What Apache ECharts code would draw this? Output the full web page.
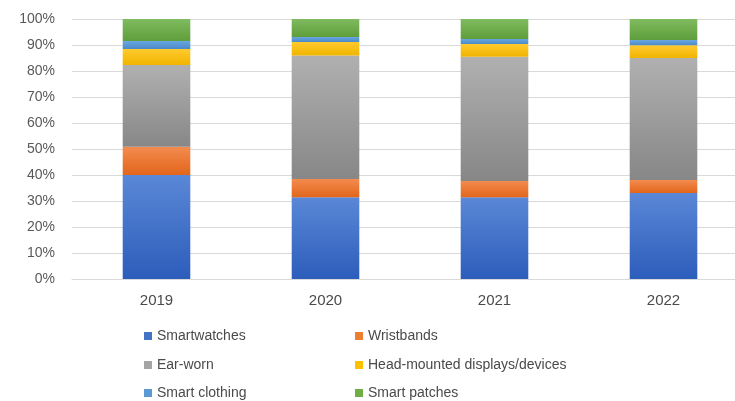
<!DOCTYPE html>
<html>
<head>
<meta charset="utf-8">
<script src="https://cdn.jsdelivr.net/npm/echarts@6/dist/echarts.min.js"></script>
<style>html,body{margin:0;padding:0;background:#fff;}#c{width:735px;height:401px;}</style>
</head>
<body>
<div id="c"></div>
<script>
var categories = ['2019', '2020', '2021', '2022'];
var smartwatches = [40.0, 31.4, 31.4, 33.1];
var wristbands = [10.9, 7.1, 6.3, 5.0];
var earWorn = [31.4, 47.5, 47.8, 46.9];
var headMounted = [6.2, 5.2, 4.9, 4.9];
var smartClothing = [3.0, 1.9, 1.9, 2.0];
var smartPatches = [8.5, 6.9, 7.7, 8.1];
var yTicks = [0, 10, 20, 30, 40, 50, 60, 70, 80, 90, 100];

var names = ['Smartwatches', 'Wristbands', 'Ear-worn', 'Head-mounted displays/devices', 'Smart clothing', 'Smart patches'];
var values = [smartwatches, wristbands, earWorn, headMounted, smartClothing, smartPatches];
var solid = ['#4472c4', '#ed7d31', '#a5a5a5', '#ffc000', '#5b9bd5', '#70ad47'];
var grads = [
  ['#5a87d6', '#2d5dbb'],
  ['#f38b4f', '#e2661b'],
  ['#b0b0b0', '#878787'],
  ['#ffca2e', '#f0b400'],
  ['#6aa7e0', '#4a8ac8'],
  ['#80bb60', '#5e9e3a']
];

var chart = echarts.init(document.getElementById('c'));
var series = names.map(function (n, i) {
  return {
    name: n,
    type: 'bar',
    stack: 'total',
    barWidth: '40%',
    data: values[i],
    itemStyle: {
      color: new echarts.graphic.LinearGradient(0, 0, 0, 1, [
        { offset: 0, color: grads[i][0] },
        { offset: 1, color: grads[i][1] }
      ])
    },
    emphasis: { disabled: true }
  };
});

var FONT = 'Liberation Sans, Arial, sans-serif';
var legendText = { fontFamily: FONT, fontSize: 14, color: '#4a4a4a' };
var legendLefts = [144, 355, 144, 355, 144, 355];
var legendTops = [329, 329, 358, 358, 386, 386];
var legends = names.map(function (n, i) {
  return {
    left: legendLefts[i],
    top: legendTops[i],
    padding: 0,
    itemWidth: 8,
    itemHeight: 8,
    itemGap: 4,
    icon: 'rect',
    selectedMode: false,
    textStyle: legendText,
    data: [{ name: n, itemStyle: { color: solid[i] } }]
  };
});

chart.setOption({
  animation: false,
  backgroundColor: '#fff',
  grid: { left: 72, top: 19, width: 676, height: 260, containLabel: false, outerBoundsMode: 'none' },
  legend: legends,
  xAxis: {
    type: 'category',
    data: categories,
    axisLine: { lineStyle: { color: '#d9d9d9', width: 1 } },
    axisTick: { show: false },
    axisLabel: { fontFamily: FONT, fontSize: 15, color: '#4a4a4a', margin: 14 }
  },
  yAxis: {
    type: 'value',
    min: yTicks[0],
    max: yTicks[yTicks.length - 1],
    interval: 10,
    axisLine: { show: false },
    axisTick: { show: false },
    splitLine: { lineStyle: { color: '#d9d9d9', width: 1 } },
    axisLabel: { fontFamily: FONT, fontSize: 14, color: '#595959', margin: 17, formatter: '{value}%' }
  },
  series: series
});
</script>
</body>
</html>
